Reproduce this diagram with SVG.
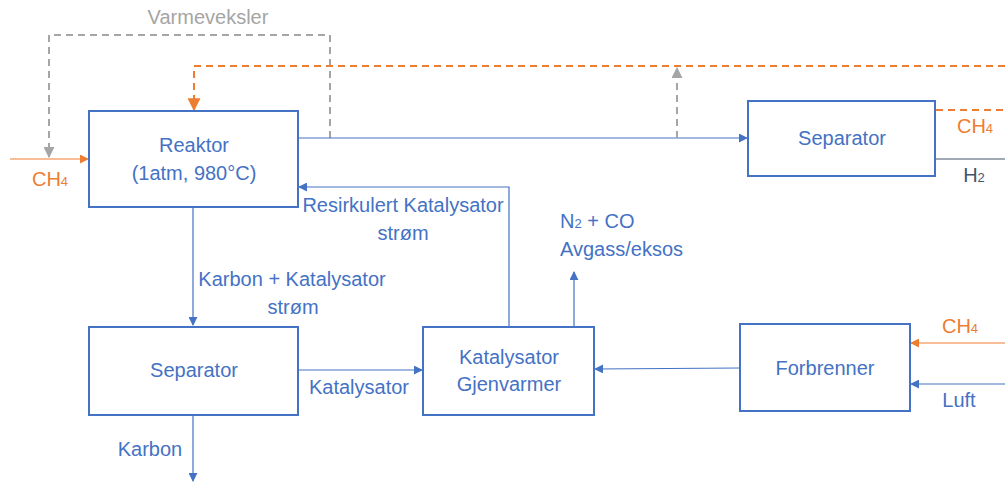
<svg xmlns="http://www.w3.org/2000/svg" width="1005" height="483" viewBox="0 0 1005 483">
<style>
.box{fill:#fff;stroke:#4472C4;stroke-width:2}
.t{font-family:"Liberation Sans",Arial,sans-serif;font-size:20px;fill:#4472C4;text-anchor:middle}
.s{text-anchor:start}
.o{fill:#ED7D31}
.g{fill:#A5A5A5}
.d{fill:#44546A}
.bl{stroke:#4472C4;stroke-width:1.2;fill:none}
.or{stroke:#ED7D31;stroke-width:1.2;fill:none}
.ord{stroke:#ED7D31;stroke-width:2;stroke-dasharray:7 5;fill:none}
.gr{stroke:#A5A5A5;stroke-width:2;stroke-dasharray:7 5;fill:none}
</style>
<defs>
<marker id="ab" viewBox="0 0 10 10" refX="9" refY="5" markerWidth="9" markerHeight="9" markerUnits="userSpaceOnUse" orient="auto"><path d="M0,0L10,5L0,10z" fill="#4472C4"/></marker>
<marker id="ao" viewBox="0 0 10 10" refX="9" refY="5" markerWidth="9" markerHeight="9" markerUnits="userSpaceOnUse" orient="auto"><path d="M0,0L10,5L0,10z" fill="#ED7D31"/></marker>
<marker id="aoL" viewBox="0 0 10 10" refX="9" refY="5" markerWidth="13" markerHeight="13" markerUnits="userSpaceOnUse" orient="auto"><path d="M0,0L10,5L0,10z" fill="#ED7D31"/></marker>
<marker id="ag" viewBox="0 0 10 10" refX="9" refY="5" markerWidth="11" markerHeight="11" markerUnits="userSpaceOnUse" orient="auto"><path d="M0,0L10,5L0,10z" fill="#A5A5A5"/></marker>
</defs>
<g id="connectors">
<path class="gr" d="M330,138V35H49V157" marker-end="url(#ag)"/>
<path class="or" d="M10,159H88" marker-end="url(#ao)"/>
<path class="ord" d="M1005,66H194V110" marker-end="url(#aoL)"/>
<path class="bl" d="M298,138H747" marker-end="url(#ab)"/>
<path class="gr" d="M677,138V68" marker-end="url(#ag)"/>
<path class="ord" d="M936,110H1005"/>
<path d="M936,159H1005" stroke="#44546A" stroke-width="1.2"/>
<path class="bl" d="M509,327V187H299" marker-end="url(#ab)"/>
<path class="bl" d="M193,208V325" marker-end="url(#ab)"/>
<path class="bl" d="M298,370H422" marker-end="url(#ab)"/>
<path class="bl" d="M193,415V481" marker-end="url(#ab)"/>
<path class="bl" d="M574,327V272" marker-end="url(#ab)"/>
<path class="bl" d="M740,368L595,369" marker-end="url(#ab)"/>
<path class="or" d="M1005,343H911" marker-end="url(#ao)"/>
<path class="bl" d="M1005,384H911" marker-end="url(#ab)"/>
</g>
<g id="reaktor">
<rect class="box" x="89" y="111" width="209" height="96"/>
<text class="t" x="194" y="152">Reaktor</text>
<text class="t" x="194" y="180">(1atm, 980°C)</text>
</g>
<g id="separator-top">
<rect class="box" x="748" y="101" width="187" height="75"/>
<text class="t" x="842" y="145">Separator</text>
</g>
<g id="separator-bottom">
<rect class="box" x="89" y="327" width="209" height="88"/>
<text class="t" x="194" y="377">Separator</text>
</g>
<g id="gjenvarmer">
<rect class="box" x="423" y="327" width="171" height="88"/>
<text class="t" x="509" y="364">Katalysator</text>
<text class="t" x="509" y="391">Gjenvarmer</text>
</g>
<g id="forbrenner">
<rect class="box" x="740" y="324" width="170" height="87"/>
<text class="t" x="825" y="375">Forbrenner</text>
</g>
<g id="labels">
<text class="t g" x="208" y="24">Varmeveksler</text>
<text class="t o" x="50" y="186">CH<tspan font-size="13">4</tspan></text>
<text class="t o" x="975" y="133">CH<tspan font-size="13">4</tspan></text>
<text class="t d" x="974" y="182">H<tspan font-size="13">2</tspan></text>
<text class="t" x="403" y="212">Resirkulert Katalysator</text>
<text class="t" x="403" y="240">strøm</text>
<text class="t" x="292" y="286">Karbon + Katalysator</text>
<text class="t" x="293" y="314">strøm</text>
<text class="t s" x="560" y="228">N<tspan font-size="13">2</tspan> + CO</text>
<text class="t s" x="560" y="256">Avgass/eksos</text>
<text class="t" x="359" y="394">Katalysator</text>
<text class="t" x="150" y="456">Karbon</text>
<text class="t o" x="960" y="333">CH<tspan font-size="13">4</tspan></text>
<text class="t" x="959" y="407">Luft</text>
</g>
</svg>
